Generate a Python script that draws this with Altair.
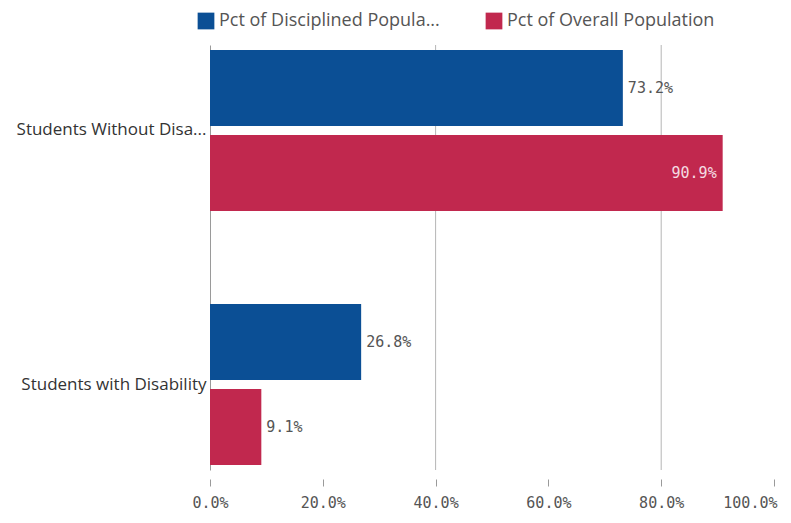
import altair as alt
import pandas as pd

categories = ["Students Without Disability", "Students with Disability"]
series = ["Pct of Disciplined Population", "Pct of Overall Population"]
disciplined = [0.732, 0.268]
overall = [0.909, 0.091]
x_ticks = [0.0, 0.2, 0.4, 0.6, 0.8, 1.0]
grid_values = [0.4, 0.8]
colors = ["#0b4f95", "#c1284e"]

rows = []
for c, d, o in zip(categories, disciplined, overall):
    rows.append({"category": c, "series": series[0], "value": d})
    rows.append({"category": c, "series": series[1], "value": o})
df = pd.DataFrame(rows)
grid_df = pd.DataFrame({"g": grid_values})

W, H = 564, 425

y_enc = alt.Y("category:N", sort=categories, title=None,
              scale=alt.Scale(paddingInner=0.367, paddingOuter=0.02),
              axis=alt.Axis(domain=True, domainColor="#9a9a9a", ticks=False, grid=False,
                            labelFont="Open Sans", labelFontSize=17, labelColor="#333333",
                            labelPadding=4, labelLimit=220,
                            labelExpr="datum.label == 'Students Without Disability' ? 'Students Without Disa...' : datum.label"))
yoff = alt.YOffset("series:N", sort=series, scale=alt.Scale(paddingInner=0.106, paddingOuter=0))
x_scale = alt.Scale(domain=[0, 1], nice=False)

x_axis = alt.Axis(values=x_ticks, format=".1%", grid=False, domain=False,
                  ticks=True, tickSize=7, tickColor="#9a9a9a",
                  offset=9, labelFont="DejaVu Sans Mono", labelFontSize=15,
                  labelColor="#555555", labelPadding=9, labelFlush=False,
                  labelAlign=alt.condition("datum.value == 1", alt.value("right"), alt.value("center")),
                  labelOffset=alt.condition("datum.value == 1", alt.value(3), alt.value(0)))

grid = alt.Chart(grid_df).mark_rule(color="#b5b5b5", strokeWidth=1).encode(
    x=alt.X("g:Q", scale=x_scale, title=None, axis=x_axis)
)

bars = alt.Chart(df).mark_bar(strokeWidth=0).encode(
    x=alt.X("value:Q", scale=x_scale, title=None, axis=x_axis),
    y=y_enc,
    yOffset=yoff,
    color=alt.Color("series:N", sort=series,
                    scale=alt.Scale(domain=series, range=colors),
                    legend=alt.Legend(title=None, orient="none", direction="horizontal",
                                      legendX=-13, legendY=-33, symbolType="square",
                                      symbolSize=280, symbolStrokeWidth=0, symbolOpacity=1,
                                      labelFont="Open Sans", labelFontSize=18,
                                      labelColor="#555555", labelLimit=320,
                                      columnPadding=45, symbolOffset=0,
                                      labelExpr="datum.label == 'Pct of Disciplined Population' ? 'Pct of Disciplined Popula...' : datum.label")),
)

outside = alt.Chart(df).transform_filter("datum.value < 0.85").mark_text(
    align="left", baseline="middle", dx=5, font="DejaVu Sans Mono", fontSize=15, color="#555555"
).encode(
    x=alt.X("value:Q", scale=x_scale, title=None, axis=x_axis),
    y=alt.Y("category:N", sort=categories),
    yOffset=alt.YOffset("series:N", sort=series),
    text=alt.Text("value:Q", format=".1%"),
)

inside = alt.Chart(df).transform_filter("datum.value >= 0.85").mark_text(
    align="right", baseline="middle", dx=-6, font="DejaVu Sans Mono", fontSize=15, color="#f4dbe2"
).encode(
    x=alt.X("value:Q", scale=x_scale, title=None, axis=x_axis),
    y=alt.Y("category:N", sort=categories),
    yOffset=alt.YOffset("series:N", sort=series),
    text=alt.Text("value:Q", format=".1%"),
)

chart = alt.layer(grid, bars, outside, inside).properties(
    width=W, height=H,
    background="white",
    autosize=alt.AutoSizeParams(type="none"),
    padding={"left": 202, "top": 37, "right": 8, "bottom": 40},
).configure_view(strokeWidth=0, stroke="transparent")

chart.save("out.html", embed_options={"renderer": "svg", "actions": False})
